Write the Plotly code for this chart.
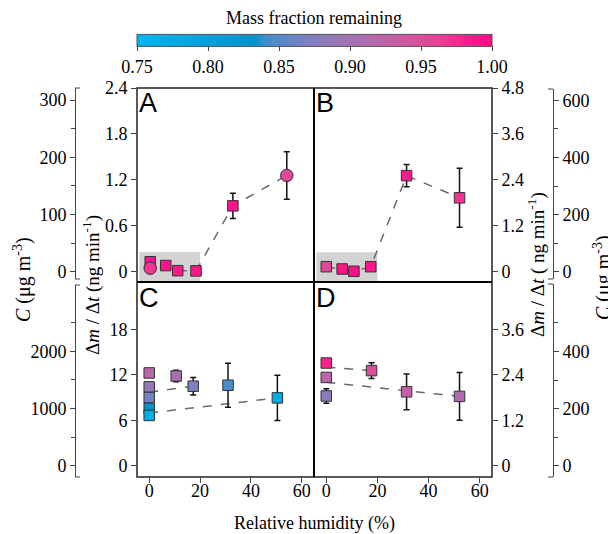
import plotly.graph_objects as go

W, H = 616, 534
OFF = 8  # default body margin of the html page
WF, HF = W - OFF, H - OFF
def px(x): return (x - OFF) / WF
def py(y): return 1 - (y - OFF) / HF

# ---------------- data ----------------
rh_ticks = [0, 20, 40, 60]

# Panel A
a_sq_rh = [0.4, 6.5, 11.2, 18.4, 32.9]
a_sq_rate = [0.13, 0.08, 0.013, 0.01, 0.86]
a_sq_err = [0, 0, 0, 0, 0.165]
a_sq_mf = [0.99, 0.99, 0.99, 0.99, 0.99]
a_ci_rh = [0.4, 54.1]
a_ci_rate = [0.045, 1.257]
a_ci_err = [0.02, 0.31]
a_ci_mf = [0.97, 0.955]
a_line_rh = [11.2, 18.4, 32.9, 54.1]
a_line_rate = [0.013, 0.01, 0.86, 1.257]

# Panel B
b_rh = [0, 6.2, 10.8, 17.4, 31.4, 52.1]
b_rate = [0.13, 0.07, 0.01, 0.13, 2.51, 1.93]
b_err = [0, 0, 0, 0, 0.29, 0.77]
b_mf = [0.955, 0.99, 0.995, 0.99, 0.985, 0.97]

# Panel C
c_rh = [0, 0, 0, 0, 0, 10.6, 17.3, 31.0, 50.4]
c_rate = [12.24, 10.4, 9.0, 7.55, 6.63, 11.84, 10.49, 10.62, 8.95]
c_err = [0, 0, 0, 0, 0, 0.75, 1.16, 2.9, 3.0]
c_mf = [0.92, 0.89, 0.865, 0.83, 0.765, 0.905, 0.87, 0.845, 0.78]
c_fit1_rh, c_fit1_rate = [0, 17.3], [9.7, 10.49]
c_fit2_rh, c_fit2_rate = [0, 50.4], [6.95, 8.95]

# Panel D
d_rh = [0, 0, 0, 17.7, 31.4, 52.1]
d_rate = [2.71, 2.33, 1.84, 2.51, 1.95, 1.83]
d_err = [0, 0, 0.19, 0.21, 0.47, 0.63]
d_mf = [0.98, 0.92, 0.88, 0.95, 0.93, 0.91]
d_fit1_rh, d_fit1_rate = [0, 17.7], [2.6, 2.51]
d_fit2_rh, d_fit2_rate = [0, 52.1], [2.2, 1.83]

# shaded low-RH regions (RH range, rate top)
a_shade = [-3.9, 20, 0.258]
b_shade = [-3.9, 20, 0.51]

cb_ticks = [0.75, 0.80, 0.85, 0.90, 0.95, 1.00]

colorscale = [
    [0.00, "#00b6f0"], [0.33, "#0094cc"], [0.36, "#3f8fd0"],
    [0.46, "#7482c2"], [0.56, "#9878b8"], [0.66, "#b46aae"],
    [0.76, "#d0589f"], [0.86, "#ec3c94"], [0.93, "#ff1c8e"], [1.00, "#ff0a85"],
]

SERIF = "Liberation Serif"
TICKFONT = dict(family=SERIF, size=18, color="black")
AXC = "#444"

fig = go.Figure()

def line(x, y, xa, ya):
    fig.add_trace(go.Scatter(x=x, y=y, mode="lines", xaxis=xa, yaxis=ya,
                             line=dict(color="#6a6a6a", width=1.5, dash="dash"),
                             showlegend=False, hoverinfo="skip"))

def pts(x, y, err, mf, xa, ya, symbol="square", size=10.5):
    fig.add_trace(go.Scatter(
        x=x, y=y, mode="markers", xaxis=xa, yaxis=ya, showlegend=False,
        error_y=dict(type="data", array=err, color="#111", thickness=1.5, width=3),
        marker=dict(symbol=symbol, size=size, color=mf, coloraxis="coloraxis",
                    line=dict(color="#333", width=1))))

line(a_line_rh, a_line_rate, "x", "y")
pts(a_sq_rh, a_sq_rate, a_sq_err, a_sq_mf, "x", "y")
pts(a_ci_rh, a_ci_rate, a_ci_err, a_ci_mf, "x", "y", symbol="circle", size=12.5)

line(b_rh, b_rate, "x2", "y2")
pts(b_rh, b_rate, b_err, b_mf, "x2", "y2")

line(c_fit1_rh, c_fit1_rate, "x3", "y3")
line(c_fit2_rh, c_fit2_rate, "x3", "y3")
pts(c_rh, c_rate, c_err, c_mf, "x3", "y3")

line(d_fit1_rh, d_fit1_rate, "x4", "y4")
line(d_fit2_rh, d_fit2_rate, "x4", "y4")
pts(d_rh, d_rate, d_err, d_mf, "x4", "y4")

# dummy traces for concentration axes
for xa, ya in [("x", "y5"), ("x", "y6"), ("x2", "y7"), ("x2", "y8")]:
    fig.add_trace(go.Scatter(x=[0], y=[0], xaxis=xa, yaxis=ya, mode="markers",
                             marker=dict(size=0.1, opacity=0),
                             showlegend=False, hoverinfo="skip"))

# ---------------- layout ----------------
XL, XM, XR = 137, 314, 492
YT, YM, YB = 88, 282, 477
XRANGE = [-4.8, 64.8]

def xax(dom, anchor, labels):
    d = dict(domain=dom, anchor=anchor, range=XRANGE, showgrid=False, zeroline=False,
             showline=False, tickfont=TICKFONT, fixedrange=True)
    if labels:
        d.update(tickvals=rh_ticks, ticks="outside", ticklen=5, tickcolor=AXC, tickwidth=1,
                 ticklabelstandoff=-8)
    else:
        d.update(showticklabels=False, ticks="")
    return d

def yax(dom, anchor, rng, vals, side):
    return dict(domain=dom, anchor=anchor, range=rng, side=side, tickvals=vals,
                ticktext=[("%g" % v) for v in vals], ticks="outside", ticklen=5,
                tickcolor=AXC, tickwidth=1, showgrid=False, zeroline=False,
                showline=False, tickfont=TICKFONT)

def cax(dom_px, pos, zero_px, ppu, major, minor, side):
    lo = -(dom_px[1] - zero_px) / ppu
    hi = (zero_px - dom_px[0]) / ppu
    return dict(domain=[py(dom_px[1]), py(dom_px[0])], anchor="free", position=px(pos),
                side=side, range=[lo, hi], tickvals=major, ticks="outside", ticklen=5,
                tickcolor=AXC, showline=True, linecolor=AXC, linewidth=1,
                showgrid=False, zeroline=False, tickfont=TICKFONT,
                minor=dict(tickvals=minor, ticks="outside", ticklen=4, tickcolor=AXC))

fig.update_layout(
    width=WF, height=HF, margin=dict(l=0, r=0, t=0, b=0, autoexpand=False),
    paper_bgcolor="white", plot_bgcolor="rgba(0,0,0,0)",
    font=dict(family=SERIF, size=18, color="black"),
    xaxis=xax([px(XL), px(XM)], "y", False),
    xaxis2=xax([px(XM), px(XR)], "y2", False),
    xaxis3=xax([px(XL), px(XM)], "y3", True),
    xaxis4=xax([px(XM), px(XR)], "y4", True),
    yaxis=yax([py(YM), py(YT)], "x", [-0.135, 2.4], [0, 0.6, 1.2, 1.8, 2.4], "left"),
    yaxis2=yax([py(YM), py(YT)], "x2", [-0.27, 4.8], [0, 1.2, 2.4, 3.6, 4.8], "right"),
    yaxis3=yax([py(YB), py(YM)], "x3", [-1.49, 24.24], [0, 6, 12, 18], "left"),
    yaxis4=yax([py(YB), py(YM)], "x4", [-0.298, 4.848], [0, 1.2, 2.4, 3.6], "right"),
    yaxis5=cax([88, 279], 75, 271.7, 0.5723, [0, 100, 200, 300], [50, 150, 250], "left"),
    yaxis6=cax([285, 477], 75, 465.7, 0.0572, [0, 1000, 2000], [500, 1500, 2500], "left"),
    yaxis7=cax([89, 279], 553, 271.7, 0.2855, [0, 200, 400, 600], [100, 300, 500], "right"),
    yaxis8=cax([284, 477], 553, 465.7, 0.2855, [0, 200, 400], [100, 300, 500], "right"),
    coloraxis=dict(
        cmin=0.75, cmax=1.0, colorscale=colorscale,
        colorbar=dict(orientation="h", x=px((XL + XR) / 2), xanchor="center",
                      y=py(78.4), yanchor="bottom", ypad=0, xpad=0,
                      len=XR - XL, lenmode="pixels", thickness=12,
                      outlinecolor="#555", outlinewidth=1,
                      tickvals=cb_ticks, ticktext=["%.2f" % v for v in cb_ticks],
                      ticks="outside", ticklen=5, tickcolor=AXC,
                      tickfont=TICKFONT),
    ),
)

shapes = []
shapes.append(dict(type="rect", xref="x", yref="y", x0=a_shade[0], x1=a_shade[1],
                   y0=-0.135, y1=a_shade[2], fillcolor="#d3d3d3", line=dict(width=0), layer="below"))
shapes.append(dict(type="rect", xref="x2", yref="y2", x0=b_shade[0], x1=b_shade[1],
                   y0=-0.27, y1=b_shade[2], fillcolor="#d3d3d3", line=dict(width=0), layer="below"))
shapes.append(dict(type="rect", xref="paper", yref="paper", x0=px(XL), x1=px(XR),
                   y0=py(YB), y1=py(YT), line=dict(color="#222", width=1.5)))
shapes.append(dict(type="line", xref="paper", yref="paper", x0=px(XM), x1=px(XM),
                   y0=py(YB), y1=py(YT), line=dict(color="black", width=2)))
shapes.append(dict(type="line", xref="paper", yref="paper", x0=px(XL), x1=px(XR),
                   y0=py(YM), y1=py(YM), line=dict(color="black", width=2)))
for yy in [88, 279, 285, 477]:
    shapes.append(dict(type="line", xref="paper", yref="paper", x0=px(75), x1=px(80),
                       y0=py(yy), y1=py(yy), line=dict(color=AXC, width=1)))
for yy in [89, 279, 284, 477]:
    shapes.append(dict(type="line", xref="paper", yref="paper", x0=px(548), x1=px(553),
                       y0=py(yy), y1=py(yy), line=dict(color=AXC, width=1)))
fig.update_layout(shapes=shapes)

ann = []
for lab, x, y in [("A", 137, 86), ("B", 314, 86), ("C", 137, 281), ("D", 314, 281)]:
    ann.append(dict(text=lab, x=px(x), y=py(y), xref="paper", yref="paper",
                    xanchor="left", yanchor="top", showarrow=False,
                    font=dict(family="Liberation Sans", size=27, color="black")))
dm_title = "Δ<i>m</i> / Δ<i>t</i> (ng min<sup>-1</sup>)"
dm_title_r = "Δ<i>m</i> / Δ<i>t</i> ( ng min<sup>-1</sup>)"
c_title = "<i>C</i> (μg m<sup>-3</sup>)"
for txt, x, y, s in [(c_title, 22, 280, 20), (dm_title, 91, 285, 19),
                     (dm_title_r, 536, 265, 19), (c_title, 602, 278, 20)]:
    ann.append(dict(text=txt, x=px(x), y=py(y), xref="paper", yref="paper",
                    xanchor="center", yanchor="middle", textangle=-90, showarrow=False,
                    font=dict(family=SERIF, size=s, color="black")))
ann.append(dict(text="Mass fraction remaining", x=px(314), y=py(18), xref="paper", yref="paper",
                xanchor="center", yanchor="middle", showarrow=False,
                font=dict(family=SERIF, size=18, color="black")))
ann.append(dict(text="Relative humidity (%)", x=px(314), y=py(523), xref="paper", yref="paper",
                xanchor="center", yanchor="middle", showarrow=False,
                font=dict(family=SERIF, size=18, color="black")))
fig.update_layout(annotations=ann)

fig.write_html("out.html")
